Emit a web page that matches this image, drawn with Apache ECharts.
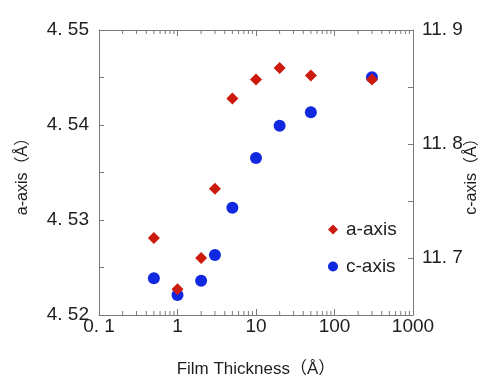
<!DOCTYPE html>
<html>
<head>
<meta charset="utf-8">
<script src="https://cdn.jsdelivr.net/npm/echarts@6/dist/echarts.min.js"></script>
<style>
  html, body { margin: 0; padding: 0; background: #fff; }
  #chart { width: 492px; height: 379px; }
</style>
</head>
<body>
<div id="chart"></div>
<script>
// film thickness (Å) and lattice constants
const thickness = [0.5, 1, 2, 3, 5, 10, 20, 50, 300];
const aAxis = [4.5281, 4.5227, 4.5260, 4.5333, 4.5428, 4.5448, 4.5460, 4.5452, 4.5448];
const cAxis = [11.6822, 11.6675, 11.6800, 11.7026, 11.7441, 11.7877, 11.8161, 11.8278, 11.8585];

// minor ticks of the log axis (2..9 per decade)
const decades = [0.1, 1, 10, 100];
const minorSteps = [2, 3, 4, 5, 6, 7, 8, 9];
const xMinorTicks = decades.flatMap(d => minorSteps.map(m => d * m));

const aMin = 4.52, aMax = 4.55;
const cMin = 11.65, cMax = 11.9;

const axisColor = '#7a7a7a';
const textColor = '#1e1e1e';
const labelFont = 'Liberation Sans, sans-serif';
const nameFont = 'Liberation Sans, Noto Sans CJK JP, sans-serif';

const chart = echarts.init(document.getElementById('chart'));

const fmtDot = s => s.replace('.', '. ');

const option = {
  backgroundColor: '#fff',
  animation: false,
  grid: {
    left: 99, right: 79, top: 30, bottom: 64,
    containLabel: false,
    outerBoundsMode: 'none'
  },
  legend: {
    data: ['a-axis', 'c-axis'],
    orient: 'vertical',
    left: 323,
    top: 215,
    itemWidth: 10,
    itemHeight: 10,
    itemGap: 18,
    textStyle: { fontSize: 19, color: textColor, fontFamily: nameFont, padding: [0, 0, 0, 3] }
  },
  xAxis: [
    {
      type: 'log',
      logBase: 10,
      min: 0.1,
      max: 1000,
      position: 'bottom',
      name: 'Film Thickness（Å）',
      nameLocation: 'middle',
      nameGap: 46,
      nameMoveOverlap: false,
      nameTextStyle: { fontSize: 17, color: textColor, fontFamily: nameFont },
      axisLine: { lineStyle: { color: axisColor, width: 1 } },
      axisTick: { inside: true, length: 6, lineStyle: { color: axisColor } },
      splitLine: { show: false },
      axisLabel: {
        fontSize: 19,
        color: textColor,
        fontFamily: labelFont,
        margin: 2,
        formatter: v => (v < 1 ? fmtDot(String(v)) : String(v))
      }
    },
    {
      type: 'log',
      logBase: 10,
      min: 0.1,
      max: 1000,
      position: 'top',
      axisLine: { lineStyle: { color: axisColor, width: 1 } },
      axisTick: { inside: true, length: 6, lineStyle: { color: axisColor } },
      axisLabel: { show: false },
      splitLine: { show: false }
    }
  ],
  yAxis: [
    {
      type: 'value',
      min: aMin,
      max: aMax,
      interval: 0.005,
      position: 'left',
      name: 'a-axis（Å）',
      nameLocation: 'middle',
      nameRotate: 90,
      nameGap: 68,
      nameMoveOverlap: false,
      nameTextStyle: { fontSize: 16, color: textColor, fontFamily: nameFont },
      axisLine: { show: true, lineStyle: { color: axisColor, width: 1 } },
      axisTick: { show: true, inside: true, length: 5, lineStyle: { color: axisColor } },
      splitLine: { show: false },
      axisLabel: {
        fontSize: 19,
        color: textColor,
        fontFamily: labelFont,
        margin: 10,
        formatter: v => (Math.abs(v * 100 - Math.round(v * 100)) < 1e-6 ? fmtDot(v.toFixed(2)) : '')
      }
    },
    {
      type: 'value',
      min: cMin,
      max: cMax,
      interval: 0.05,
      position: 'right',
      name: 'c-axis（Å）',
      nameLocation: 'middle',
      nameRotate: 90,
      nameGap: 51,
      nameMoveOverlap: false,
      nameTextStyle: { fontSize: 16, color: textColor, fontFamily: nameFont },
      axisLine: { show: true, lineStyle: { color: axisColor, width: 1 } },
      axisTick: { show: true, inside: true, length: 5, lineStyle: { color: axisColor } },
      splitLine: { show: false },
      axisLabel: {
        fontSize: 19,
        color: textColor,
        fontFamily: labelFont,
        margin: 9,
        formatter: v => (Math.abs(v * 10 - Math.round(v * 10)) < 1e-6 ? fmtDot(v.toFixed(1)) : '')
      }
    }
  ],
  series: [
    {
      name: 'minor ticks',
      type: 'custom',
      silent: true,
      clip: false,
      xAxisIndex: 0,
      yAxisIndex: 0,
      data: xMinorTicks.map(v => [v, aMin]),
      renderItem: (params, api) => {
        const v = api.value(0);
        const b = api.coord([v, aMin]);
        const t = api.coord([v, aMax]);
        const style = { stroke: axisColor, lineWidth: 1 };
        return {
          type: 'group',
          children: [
            { type: 'line', shape: { x1: b[0], y1: b[1], x2: b[0], y2: b[1] - 4 }, style },
            { type: 'line', shape: { x1: t[0], y1: t[1], x2: t[0], y2: t[1] + 4 }, style }
          ]
        };
      }
    },
    {
      name: 'a-axis',
      type: 'scatter',
      xAxisIndex: 0,
      yAxisIndex: 0,
      symbol: 'diamond',
      symbolSize: 12,
      itemStyle: { color: '#cc1a0c', opacity: 1 },
      data: thickness.map((t, i) => [t, aAxis[i]]),
      z: 3
    },
    {
      name: 'c-axis',
      type: 'scatter',
      xAxisIndex: 0,
      yAxisIndex: 1,
      symbol: 'circle',
      symbolSize: 12,
      itemStyle: { color: '#1028e0', opacity: 1 },
      data: thickness.map((t, i) => [t, cAxis[i]]),
      z: 2
    }
  ]
};

chart.setOption(option);
</script>
</body>
</html>
